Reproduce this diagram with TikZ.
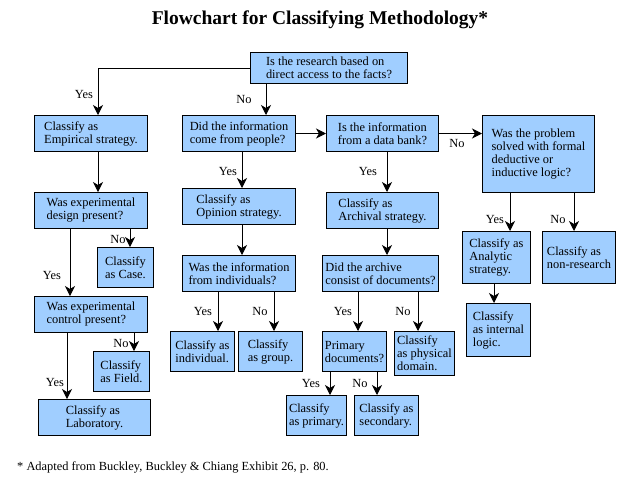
\documentclass[tikz,border=0pt]{standalone}
\usepackage{fontspec}
\setmainfont{Liberation Serif}
\usepackage{xcolor}
\definecolor{boxblue}{RGB}{160,206,255}
\usetikzlibrary{arrows.meta}

\begin{document}
\begin{tikzpicture}[x=1pt, y=-1pt,
  box/.style={draw, line width=1pt, fill=boxblue, anchor=north west, inner sep=0pt,
    align=left, font=\fontsize{12.4}{13}\selectfont},
  arr/.style={line width=1pt, -{Stealth[length=10pt, width=10pt, inset=3pt]}},
  lbl/.style={font=\fontsize{12.4}{13}\selectfont, inner sep=0pt}]
  \useasboundingbox (0,0) rectangle (640,480);
  % title and note
  \node[font=\fontsize{19.5}{22}\selectfont\bfseries] (title) at (320,20) {Flowchart for Classifying Methodology*};
  \node[lbl, anchor=west] (note) at (17,467) {* Adapted from Buckley, Buckley \& Chiang Exhibit 26, p. 80.};
  % boxes
  \node[box, minimum width=157, minimum height=31] (direct) at (250,52) {Is the research based on\\direct access to the facts?};
  \node[box, minimum width=113, minimum height=36] (empirical) at (34,115) {Classify as\\ Empirical strategy.};
  \node[box, minimum width=113, minimum height=36] (people) at (182,115) {Did the information\\come from people?};
  \node[box, minimum width=112, minimum height=36] (databank) at (326,115) {Is the information\\from a data bank?};
  \node[box, minimum width=112, minimum height=77] (logic) at (482,115) {Was the problem\\solved with formal\\deductive or\\inductive logic?};
  \node[box, minimum width=113, minimum height=36] (design) at (34,192) {Was experimental\\design present?};
  \node[box, minimum width=56, minimum height=40] (case) at (97,247) {Classify\\as Case.};
  \node[box, minimum width=113, minimum height=36] (opinion) at (182,188) {Classify as\\ Opinion strategy.};
  \node[box, minimum width=113, minimum height=36] (persons) at (182,255) {Was the information\\from individuals?};
  \node[box, minimum width=113, minimum height=36] (control) at (34,296) {Was experimental\\control present?};
  \node[box, minimum width=112, minimum height=36] (archival) at (326,192) {Classify as\\Archival strategy.};
  \node[box, minimum width=116, minimum height=36] (archive) at (322,255) {Did the archive\\consist of documents?};
  \node[box, minimum width=68, minimum height=52] (analytic) at (462,231) {Classify as\\Analytic\\strategy.};
  \node[box, minimum width=73, minimum height=52] (nonres) at (542,231) {Classify as\\non-research};
  \node[box, minimum width=64, minimum height=53] (internal) at (466,303) {Classify\\as internal\\logic.};
  \node[box, minimum width=56, minimum height=40] (field) at (93,351) {Classify\\as Field.};
  \node[box, minimum width=112, minimum height=36] (lab) at (38,399) {Classify as\\Laboratory.};
  \node[box, minimum width=64, minimum height=40] (single) at (170,331) {Classify as\\individual.};
  \node[box, minimum width=64, minimum height=40] (group) at (238,331) {Classify\\as group.};
  \node[box, minimum width=64, minimum height=40] (primq) at (322,331) {Primary\\documents?};
  \node[box, minimum width=60, minimum height=44] (physical) at (394,331) {Classify\\as physical\\domain.};
  \node[box, minimum width=60, minimum height=40] (primary) at (286,395) {Classify\\as primary.};
  \node[box, minimum width=64, minimum height=40] (secondary) at (354,395) {Classify as\\secondary.};
  % arrows
  \draw[arr] (direct.west) -| ([xshift=64]empirical.north west);
  \draw[arr] ([xshift=16]direct.south west) -- ([xshift=16]direct.south west |- people.north);
  \draw[arr] (people.east) -- (databank.west);
  \draw[arr] (databank.east) -- (databank.east -| logic.west);
  \draw[arr] ([xshift=64]empirical.south west) -- ([xshift=64]design.north west);
  \draw[arr] ([xshift=60]people.south west) -- ([xshift=60]opinion.north west);
  \draw[arr] ([xshift=61]databank.south west) -- ([xshift=61]archival.north west);
  \draw[arr] ([xshift=36]design.south west) -- ([xshift=36]control.north west);
  \draw[arr] ([xshift=96]design.south west) -- ([xshift=96]design.south west |- case.north);
  \draw[arr] ([xshift=60]opinion.south west) -- ([xshift=60]persons.north west);
  \draw[arr] ([xshift=36]persons.south west) -- ([xshift=36]persons.south west |- single.north);
  \draw[arr] ([xshift=92]persons.south west) -- ([xshift=92]persons.south west |- group.north);
  \draw[arr] ([xshift=33]control.south west) -- ([xshift=33]control.south west |- lab.north);
  \draw[arr] ([xshift=100]control.south west) -- ([xshift=100]control.south west |- field.north);
  \draw[arr] ([xshift=61]archival.south west) -- ([xshift=61]archival.south west |- archive.north);
  \draw[arr] ([xshift=36]archive.south west) -- ([xshift=36]archive.south west |- primq.north);
  \draw[arr] ([xshift=96]archive.south west) -- ([xshift=96]archive.south west |- physical.north);
  \draw[arr] ([xshift=28]logic.south west) -- ([xshift=28]logic.south west |- analytic.north);
  \draw[arr] ([xshift=92]logic.south west) -- ([xshift=92]logic.south west |- nonres.north);
  \draw[arr] ([xshift=32]analytic.south west) -- ([xshift=32]analytic.south west |- internal.north);
  \draw[arr] ([xshift=8]primq.south west) -- ([xshift=8]primq.south west |- primary.north);
  \draw[arr] ([xshift=55]primq.south west) -- ([xshift=55]primq.south west |- secondary.north);
  % branch labels
  \node[lbl] (yes1) at (84,94) {Yes};
  \node[lbl] (no1) at (244,99) {No};
  \node[lbl] (yes2) at (228,171) {Yes};
  \node[lbl] (no2) at (457,143) {No};
  \node[lbl] (yes3) at (368,171) {Yes};
  \node[lbl] (no3) at (118,239) {No};
  \node[lbl] (yes4) at (52,275) {Yes};
  \node[lbl] (yes5) at (203,311) {Yes};
  \node[lbl] (no5) at (260,311) {No};
  \node[lbl] (yes6) at (343,311) {Yes};
  \node[lbl] (no6) at (403,311) {No};
  \node[lbl] (yes7) at (495,219) {Yes};
  \node[lbl] (no7) at (558,219) {No};
  \node[lbl] (no8) at (121,343) {No};
  \node[lbl] (yes8) at (55,382) {Yes};
  \node[lbl] (yes9) at (311,383) {Yes};
  \node[lbl] (no9) at (360,383) {No};
\end{tikzpicture}
\end{document}
